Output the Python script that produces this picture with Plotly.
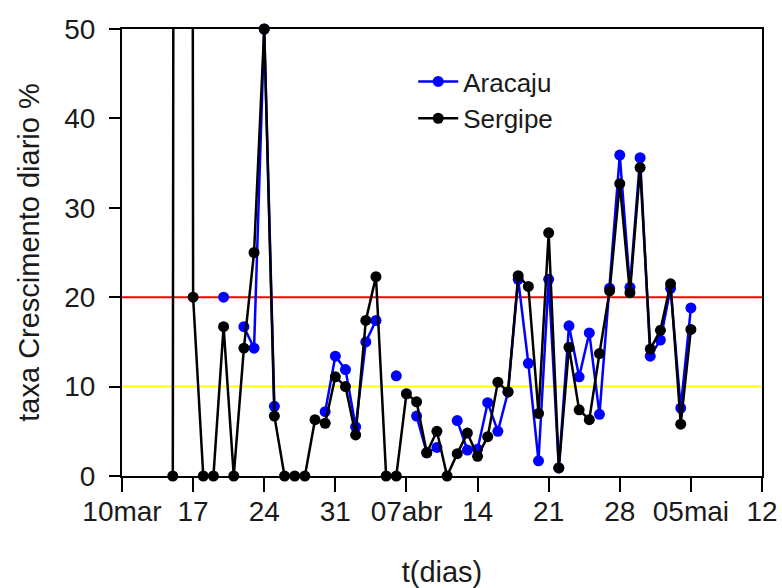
import plotly.graph_objects as go
import pandas as pd

# Daily dates of the two series
dates = pd.date_range("2020-03-15", "2020-05-05", freq="D").strftime("%Y-%m-%d").tolist()

# Sergipe daily growth rate (%), 15 mar .. 05 mai (16 mar is far above the axis)
sergipe = [
    0.0, 1000.0, 20.0, 0.0, 0.0, 16.7, 0.0, 14.3, 25.0, 50.0,
    6.7, 0.0, 0.0, 0.0, 6.3, 5.9, 11.1, 10.0, 4.6, 17.4,
    22.3, 0.0, 0.0, 9.2, 8.3, 2.6, 5.0, 0.0, 2.5, 4.8,
    2.2, 4.4, 10.5, 9.4, 22.4, 21.2, 7.0, 27.2, 0.9, 14.4,
    7.4, 6.3, 13.7, 20.7, 32.7, 20.5, 34.5, 14.2, 16.3, 21.5,
    5.8, 16.4,
]

# Aracaju daily growth rate (%), same dates (None = no value)
aracaju = [
    None, None, None, None, None, 20.0, None, 16.7, 14.3, 50.0,
    7.8, None, None, None, None, 7.2, 13.4, 11.9, 5.5, 15.0,
    17.4, None, 11.2, None, 6.7, 2.6, 3.2, None, 6.2, 2.9,
    3.0, 8.2, 5.0, 9.4, 22.0, 12.6, 1.7, 22.0, 0.9, 16.8,
    11.1, 16.0, 6.9, 21.0, 35.9, 21.1, 35.6, 13.4, 15.2, 21.0,
    7.6, 18.8,
]

# Axis ticks
x_tickvals = ["2020-03-10", "2020-03-17", "2020-03-24", "2020-03-31", "2020-04-07",
              "2020-04-14", "2020-04-21", "2020-04-28", "2020-05-05", "2020-05-12"]
x_ticktext = ["10mar", "17", "24", "31", "07abr", "14", "21", "28", "05mai", "12"]
y_tickvals = [0, 10, 20, 30, 40, 50]

# Reference levels
ref_levels = [20, 10]
ref_colors = ["#ff0000", "#ffff00"]

FONT = "Liberation Sans, Arial, sans-serif"
TXT = "#1a1a1a"

fig = go.Figure()

fig.add_trace(go.Scatter(
    x=dates, y=aracaju, name="Aracaju", mode="lines+markers",
    line=dict(color="#0000ff", width=2.5),
    marker=dict(color="#0000ff", size=11),
    cliponaxis=False,
))
fig.add_trace(go.Scatter(
    x=dates, y=sergipe, name="Sergipe", mode="lines+markers",
    line=dict(color="#000000", width=2.5),
    marker=dict(color="#000000", size=11),
    cliponaxis=False,
))

for lvl, col in zip(ref_levels, ref_colors):
    fig.add_shape(type="line", xref="paper", yref="y", x0=0, x1=1, y0=lvl, y1=lvl,
                  line=dict(color=col, width=2), layer="below")

fig.update_layout(
    width=782, height=588,
    margin=dict(l=122, r=20, t=29, b=112, autoexpand=False),
    paper_bgcolor="white", plot_bgcolor="white",
    font=dict(family=FONT, color=TXT),
    showlegend=True,
    legend=dict(
        x=0.455, y=0.935, xanchor="left", yanchor="top",
        font=dict(size=26, family=FONT, color=TXT),
        bgcolor="rgba(0,0,0,0)", tracegroupgap=0, itemwidth=40,
    ),
    xaxis=dict(
        type="date", range=["2020-03-10", "2020-05-12"], automargin=False,
        tickmode="array", tickvals=x_tickvals, ticktext=x_ticktext,
        ticks="outside", ticklen=14, tickwidth=2, tickcolor="black",
        showline=True, linecolor="black", linewidth=2, mirror=True,
        showgrid=False, zeroline=False, ticklabelstandoff=-5,
        tickfont=dict(size=28, family=FONT, color=TXT),
        title=dict(text="t(dias)", font=dict(size=29, family=FONT, color=TXT), standoff=37),
    ),
    yaxis=dict(
        range=[0, 50], tickmode="array", tickvals=y_tickvals, automargin=False,
        ticks="outside", ticklen=11, tickwidth=2, tickcolor="black",
        showline=True, linecolor="black", linewidth=2, mirror=True,
        showgrid=False, zeroline=False, ticklabelstandoff=8,
        tickfont=dict(size=28, family=FONT, color=TXT),
        title=dict(text="taxa Crescimento diario %", font=dict(size=29, family=FONT, color=TXT), standoff=16),
    ),
)

fig.write_html("out.html")
